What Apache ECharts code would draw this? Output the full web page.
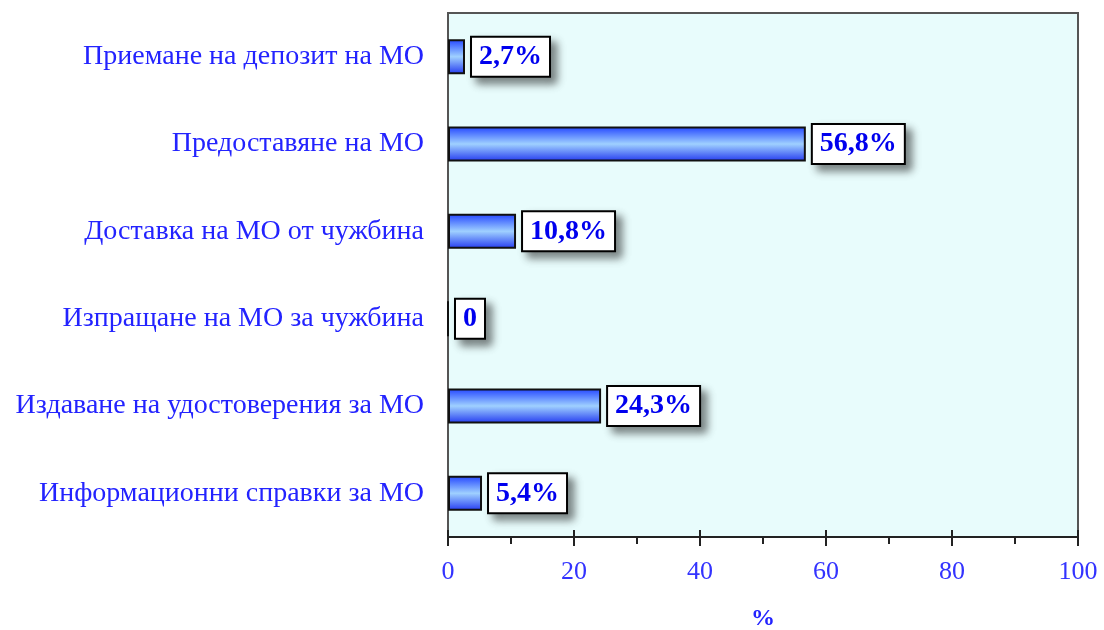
<!DOCTYPE html>
<html>
<head>
<meta charset="utf-8">
<script src="https://cdn.jsdelivr.net/npm/echarts@6/dist/echarts.min.js"></script>
<style>
  html, body { margin: 0; padding: 0; background: #fff; }
  #chart { width: 1104px; height: 630px; }
</style>
</head>
<body>
<div id="chart"></div>
<script>
// категории (отгоре надолу)
const categories = [
  'Приемане на депозит на МО',
  'Предоставяне на МО',
  'Доставка на МО от чужбина',
  'Изпращане на МО за чужбина',
  'Издаване на удостоверения за МО',
  'Информационни справки за МО'
]
const values = [2.7, 56.8, 10.8, 0, 24.3, 5.4]
const valueLabels = ['2,7%', '56,8%', '10,8%', '0', '24,3%', '5,4%']
const axisName = '%'

const blue = '#2323ff'
const font = '"Liberation Serif", "Times New Roman", serif'

const chart = echarts.init(document.getElementById('chart'))

chart.setOption({
  animation: false,
  grid: {
    left: 448,
    right: 26,
    top: 13,
    bottom: 93,
    outerBoundsMode: 'none',
    show: true,
    backgroundColor: '#e8fcfc',
    borderColor: '#555',
    borderWidth: 2
  },
  xAxis: [
    {
      type: 'value',
      min: 0,
      max: 100,
      interval: 20,
      name: axisName,
      nameLocation: 'middle',
      nameGap: 70,
      nameTextStyle: { color: blue, fontFamily: font, fontSize: 24, fontWeight: 'bold' },
      axisLine: { show: true, lineStyle: { color: '#222', width: 2 } },
      axisTick: { show: true, length: 9, lineStyle: { color: '#222', width: 2 } },
      minorTick: { show: true, splitNumber: 2, length: 7, lineStyle: { color: '#222', width: 2 } },
      splitLine: { show: false },
      axisLabel: { color: '#3333ff', fontFamily: font, fontSize: 26, margin: 22 }
    },
    {
      // внатрешните части на главните чертички
      type: 'value',
      position: 'bottom',
      min: 0,
      max: 100,
      interval: 20,
      axisLine: { show: false },
      axisTick: { show: true, inside: true, length: 7, lineStyle: { color: '#222', width: 2 } },
      axisLabel: { show: false },
      splitLine: { show: false }
    }
  ],
  yAxis: {
    type: 'category',
    data: categories,
    inverse: true,
    axisLine: { show: true, lineStyle: { color: '#555', width: 2 } },
    axisTick: { show: false },
    axisLabel: { color: blue, fontFamily: font, fontSize: 28, margin: 24 }
  },
  series: [
    {
      type: 'bar',
      xAxisIndex: 0,
      data: values,
      barWidth: 35,
      itemStyle: {
        borderColor: '#111',
        borderWidth: 2,
        color: new echarts.graphic.LinearGradient(0, 0, 0, 1, [
          { offset: 0, color: '#2244ff' },
          { offset: 0.5, color: '#9fd0ff' },
          { offset: 1, color: '#2238f0' }
        ])
      },
      label: {
        show: true,
        position: 'right',
        distance: 7,
        formatter: (p) => valueLabels[p.dataIndex],
        color: '#0000ee',
        fontFamily: font,
        fontSize: 28,
        fontWeight: 'bold',
        lineHeight: 30,
        backgroundColor: '#fff',
        borderColor: '#000',
        borderWidth: 2,
        padding: [4, 7],
        shadowColor: 'rgba(0,0,0,0.45)',
        shadowBlur: 8,
        shadowOffsetX: 6,
        shadowOffsetY: 6
      }
    }
  ]
})
</script>
</body>
</html>
